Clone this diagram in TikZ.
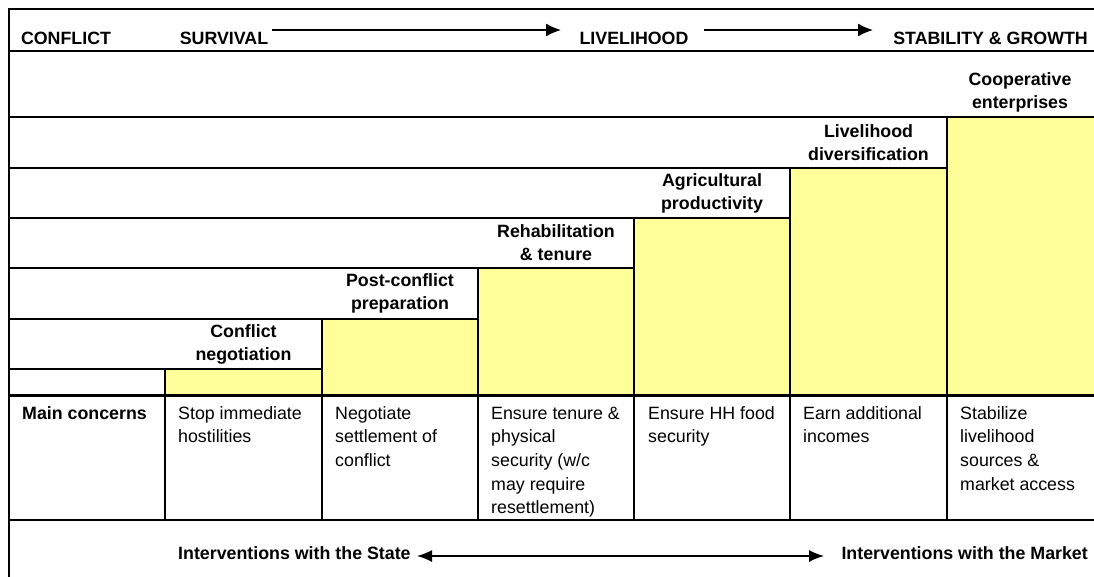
\documentclass[tikz,border=0pt]{standalone}
\usepackage{fontspec}
\setmainfont{Liberation Sans}
\usetikzlibrary{arrows.meta}
\definecolor{stepyellow}{RGB}{255,255,153}
\newcommand\cellfnt{\fontsize{17.8}{23.7}\selectfont}
\newcommand\lblfnt{\bfseries\fontsize{17.8}{23}\selectfont}
\begin{document}
\begin{tikzpicture}[x=1pt,y=-1pt,
  rule/.style={line width=2pt},
  thickrule/.style={line width=3pt},
  stepfill/.style={fill=stepyellow},
  hdr/.style={font=\lblfnt, inner sep=0, anchor=base},
  lbl/.style={font=\lblfnt, align=center, inner sep=0},
  cell/.style={font=\cellfnt, align=left, anchor=north west, inner sep=0},
  bcell/.style={font=\lblfnt, anchor=base west, inner sep=0},
  flow/.style={line width=1.4pt, -{Latex[length=15pt,width=13pt]}},
  both/.style={line width=1.4pt, {Latex[length=15pt,width=12pt]}-{Latex[length=15pt,width=12pt]}}
]
\useasboundingbox (0,0) rectangle (1094,577);

% yellow steps
\fill[stepfill] (165,369) rectangle (322,395);
\fill[stepfill] (322,319) rectangle (478,395);
\fill[stepfill] (478,268) rectangle (634,395);
\fill[stepfill] (634,218) rectangle (790,395);
\fill[stepfill] (790,168) rectangle (947,395);
\fill[stepfill] (947,117) rectangle (1094,395);

% frame and rules
\draw[rule] (9,577) -- (9,9) -- (1094,9);
\draw[rule] (9,51) -- (1094,51);
\draw[rule] (9,117) -- (1094,117);
\draw[rule] (9,168) -- (947,168);
\draw[rule] (9,218) -- (790,218);
\draw[rule] (9,268) -- (634,268);
\draw[rule] (9,319) -- (478,319);
\draw[rule] (9,369) -- (322,369);
\draw[rule] (165,369) -- (165,520);
\draw[rule] (322,319) -- (322,520);
\draw[rule] (478,268) -- (478,520);
\draw[rule] (634,218) -- (634,520);
\draw[rule] (790,168) -- (790,520);
\draw[rule] (947,117) -- (947,520);
\draw[thickrule] (9,395) -- (1094,395);
\draw[rule] (9,520) -- (1094,520);

% header
\node[hdr] (conflict) at (66,45) {CONFLICT};
\node[hdr] (survival) at (224,45) {SURVIVAL};
\node[hdr] (livelihood) at (634,45) {LIVELIHOOD};
\node[hdr, anchor=base east] (stability) at (1088,45) {STABILITY \& GROWTH};
\coordinate (a1s) at (272,30);
\coordinate (a1e) at (561,30);
\coordinate (a2s) at (704,30);
\coordinate (a2e) at (873,30);
\draw[flow] (a1s) -- (a1e);
\draw[flow] (a2s) -- (a2e);

% step labels
\node[lbl] (s1) at (243.5,344) {Conflict\\negotiation};
\node[lbl] (s2) at (400,293.5) {Post-conflict\\preparation};
\node[lbl] (s3) at (556,243) {Rehabilitation\\\& tenure};
\node[lbl] (s4) at (712,193) {Agricultural\\productivity};
\node[lbl] (s5) at (868.5,142.5) {Livelihood\\diversification};
\node[lbl] (s6) at (1020,92) {Cooperative\\enterprises};

% main concerns
\node[bcell] (mc) at (22,419) {Main concerns};
\node[cell] (c1) at (178,402.4) {\strut Stop immediate\\hostilities};
\node[cell] (c2) at (335,402.4) {\strut Negotiate\\settlement of\\conflict};
\node[cell] (c3) at (491,402.4) {\strut Ensure tenure \&\\physical\\security (w/c\\may require\\resettlement)};
\node[cell] (c4) at (648,402.4) {\strut Ensure HH food\\security};
\node[cell] (c5) at (803,402.4) {\strut Earn additional\\incomes};
\node[cell] (c6) at (960,402.4) {\strut Stabilize\\livelihood\\sources \&\\market access};

% interventions
\node[bcell] (state) at (178,559) {Interventions with the State};
\node[bcell, anchor=base east] (market) at (1088,559) {Interventions with the Market};
\coordinate (b1) at (417,556);
\coordinate (b2) at (824,556);
\draw[both] (b1) -- (b2);
\end{tikzpicture}
\end{document}
